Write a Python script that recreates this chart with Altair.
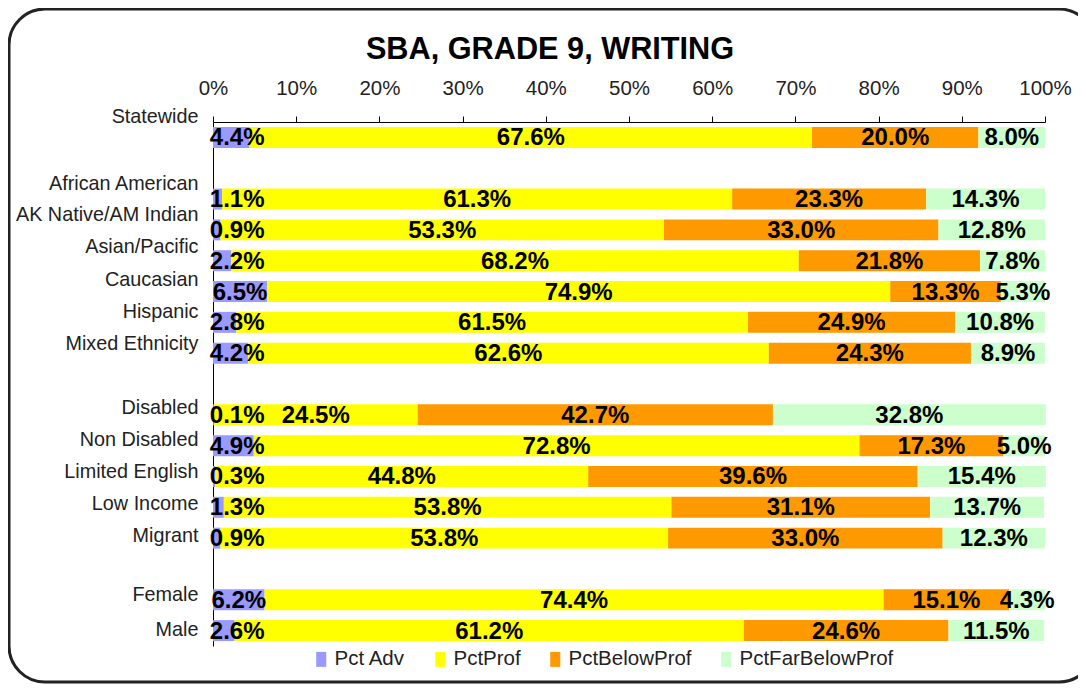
import altair as alt
import pandas as pd

groups = ["Statewide", " ", "African American", "AK Native/AM Indian", "Asian/Pacific",
          "Caucasian", "Hispanic", "Mixed Ethnicity", "  ", "Disabled", "Non Disabled",
          "Limited English", "Low Income", "Migrant", "   ", "Female", "Male"]

categories = ["Statewide", "African American", "AK Native/AM Indian", "Asian/Pacific",
              "Caucasian", "Hispanic", "Mixed Ethnicity", "Disabled", "Non Disabled",
              "Limited English", "Low Income", "Migrant", "Female", "Male"]

pct_adv = [4.4, 1.1, 0.9, 2.2, 6.5, 2.8, 4.2, 0.1, 4.9, 0.3, 1.3, 0.9, 6.2, 2.6]
pct_prof = [67.6, 61.3, 53.3, 68.2, 74.9, 61.5, 62.6, 24.5, 72.8, 44.8, 53.8, 53.8, 74.4, 61.2]
pct_below = [20.0, 23.3, 33.0, 21.8, 13.3, 24.9, 24.3, 42.7, 17.3, 39.6, 31.1, 33.0, 15.1, 24.6]
pct_far_below = [8.0, 14.3, 12.8, 7.8, 5.3, 10.8, 8.9, 32.8, 5.0, 15.4, 13.7, 12.3, 4.3, 11.5]

series = ["Pct Adv", "PctProf", "PctBelowProf", "PctFarBelowProf"]
colors = ["#9999FF", "#FFFF00", "#FF9900", "#CCFFCC"]
x_ticks = [0, 10, 20, 30, 40, 50, 60, 70, 80, 90, 100]

# vertical nudge of each category label (pixels), as in the original layout
label_nudge = [-20, -15, -15, -14, -11.5, -10, -9, -7, -5.5, -4.5, -3, -2, -5, -0.5]

rows = []
for s_i, (name, vals) in enumerate(zip(series, [pct_adv, pct_prof, pct_below, pct_far_below])):
    for cat, v in zip(categories, vals):
        rows.append({"cat": cat, "series": name, "ord": s_i, "value": v})
df = pd.DataFrame(rows)

FONT = "Liberation Sans"

base = alt.Chart(df).transform_stack(
    stack="value", groupby=["cat"], sort=[alt.SortField("ord")], as_=["x0", "x1"]
).transform_calculate(
    mid="datum.ord == 0 ? max((datum.x0 + datum.x1) / 2, 2.9) : (datum.x0 + datum.x1) / 2",
    lbl="format(datum.value, '.1f') + '%'"
)

label_offset = {
    "condition": [{"test": "datum.value === '%s'" % c, "value": n}
                  for c, n in zip(categories, label_nudge)],
    "value": 0,
}

yenc = alt.Y("cat:N", scale=alt.Scale(domain=groups, paddingInner=0.32, paddingOuter=0.16),
             axis=alt.Axis(title=None, ticks=False, domainColor="#000", domainWidth=1,
                           labelFont=FONT, labelFontSize=19.8, labelColor="#222",
                           labelPadding=15, labelOffset=label_offset, labelLimit=300))

bars = base.mark_bar().encode(
    x=alt.X("x0:Q", scale=alt.Scale(domain=[0, 100], nice=False),
            axis=alt.Axis(orient="top", title=None, values=x_ticks, grid=False,
                          labelExpr="datum.value + '%'", domainColor="#000",
                          tickColor="#000", tickSize=6, labelFont=FONT, labelFlush=False,
                          labelFontSize=20.5, labelColor="#222", labelPadding=18)),
    x2="x1:Q",
    y=yenc,
    color=alt.Color("series:N", scale=alt.Scale(domain=series, range=colors),
                    legend=alt.Legend(title=None, orient="none", legendX=98, legendY=527,
                                      direction="horizontal",
                                      symbolType="M-0.67,-1H0.67V1H-0.67Z",
                                      symbolSize=225, symbolStrokeWidth=0,
                                      labelFont=FONT, labelFontSize=20.5, labelColor="#222",
                                      labelOffset=3, columnPadding=24)),
)

labels = base.mark_text(font=FONT, fontSize=24, fontWeight="bold", color="#000",
                        baseline="middle", dy=1).encode(
    x=alt.X("mid:Q"),
    y=alt.Y("cat:N", scale=alt.Scale(domain=groups)),
    text="lbl:N",
)

frame = alt.Chart(pd.DataFrame({"k": [0]})).mark_rect(
    fill=None, stroke="#222", strokeWidth=3, cornerRadius=36
).encode(
    x=alt.value(-204), x2=alt.value(882), y=alt.value(-113), y2=alt.value(560)
)

chart = alt.layer(frame, bars, labels).properties(
    width=832, height=524,
    autosize=alt.AutoSizeParams(type="none"),
    padding={"left": 205, "top": 114, "right": 33, "bottom": 38},
    title=alt.TitleParams("SBA, GRADE 9, WRITING", font=FONT, fontSize=30.7,
                          fontWeight="bold", color="#000", anchor="middle",
                          baseline="alphabetic", dx=-79, offset=-82),
).configure_view(stroke=None)

chart.save("out.html", embed_options={"renderer": "svg", "actions": False})
